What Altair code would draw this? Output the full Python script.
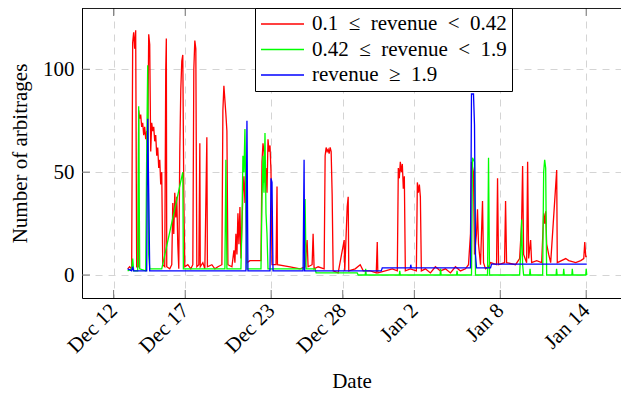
import altair as alt
import pandas as pd

# ---- data (days after 2020-12-12 00:00, number of arbitrages) ----
red_days = [0.98, 1.12, 1.26, 1.33, 1.40, 1.47, 1.54, 1.61, 1.72, 1.75, 1.82, 1.89, 1.96, 2.03, 2.10, 2.17,
            2.24, 2.31, 2.38, 2.45, 2.52, 2.59, 2.66, 2.73, 2.80, 2.87, 2.94, 3.01, 3.08, 3.15, 3.22, 3.29,
            3.36, 3.43, 3.57, 3.64, 3.68, 3.71, 3.92, 4.06, 4.13, 4.20, 4.27, 4.34, 4.41, 4.48, 4.55, 4.62,
            4.69, 4.76, 4.83, 4.90, 4.97, 5.18, 5.39, 5.53, 5.60, 5.67, 5.74, 5.81, 5.95, 6.02, 6.05, 6.23,
            6.37, 6.51, 6.55, 6.86, 7.07, 7.28, 7.56, 7.63, 7.70, 7.77, 7.84, 7.91, 7.98, 8.26, 8.40, 8.47,
            8.54, 8.61, 8.68, 8.75, 8.82, 8.89, 9.03, 9.10, 9.17, 9.24, 9.31, 9.52, 10.29, 10.36, 10.43, 10.50,
            10.57, 10.64, 10.71, 10.78, 10.85, 10.92, 10.99, 11.06, 11.34, 11.41, 11.44, 12.32, 13.02, 13.37,
            13.51, 13.58, 13.86, 13.93, 14.00, 14.28, 14.70, 14.77, 14.84, 14.91, 14.98, 15.05, 15.12, 15.19,
            15.26, 15.33, 15.68, 16.10, 16.14, 16.31, 16.38, 16.42, 16.87, 17.22, 17.43, 17.92, 18.34, 18.41,
            18.45, 18.97, 19.46, 19.81, 19.88, 19.95, 20.02, 20.09, 20.16, 20.23, 20.30, 20.37, 20.72, 21.14,
            21.21, 21.28, 21.35, 21.42, 21.49, 21.77, 22.12, 22.47, 22.82, 23.17, 23.52, 23.87, 24.22, 24.57,
            24.78, 24.92, 24.99, 25.13, 25.20, 25.34, 25.41, 25.48, 25.55, 25.62, 25.76, 25.83, 25.97, 26.18,
            26.32, 26.74, 26.81, 26.88, 27.30, 27.37, 27.44, 28.07, 28.35, 28.49, 28.56, 28.63, 28.84, 28.91,
            28.98, 29.12, 29.19, 29.54, 29.89, 30.03, 30.10, 30.17, 30.24, 30.38, 30.52, 30.94, 30.98, 31.57,
            31.78, 32.27, 32.62, 32.83, 32.90, 32.97, 33.04]
red_vals = [3, 4, 3, 113, 118, 110, 119, 4, 4, 80, 76, 78, 72, 74, 68, 72,
            66, 70, 60, 117, 112, 60, 74, 70, 72, 65, 68, 58, 62, 52, 56, 44,
            50, 5, 4, 100, 115, 4, 3, 5, 35, 20, 40, 28, 38, 15, 3, 60,
            90, 104, 107, 40, 4, 5, 3, 5, 100, 114, 110, 4, 5, 64, 4, 6,
            3, 67, 4, 5, 3, 4, 5, 80, 92, 85, 78, 70, 5, 4, 12, 6,
            20, 10, 30, 15, 33, 8, 40, 48, 35, 52, 6, 7, 7, 55, 64, 60,
            45, 52, 40, 66, 60, 63, 50, 5, 5, 43, 5, 4, 3, 4,
            17, 4, 5, 20, 3, 4, 3, 58, 62, 60, 61, 59, 62, 60,
            39, 2, 1, 17, 2, 33, 38, 2, 3, 5, 2, 2, 1, 16,
            1, 2, 3, 2, 52, 47, 55, 50, 54, 42, 48, 2, 3, 2,
            45, 40, 44, 38, 2, 3, 1, 4, 2, 3, 1, 4, 2, 3,
            5, 20, 55, 50, 10, 20, 32, 15, 10, 5, 36, 6, 3, 4,
            6, 5, 47, 5, 6, 36, 6, 5, 8, 25, 53, 10, 6, 55,
            8, 17, 6, 7, 6, 30, 25, 31, 15, 10, 6, 51, 6, 8,
            7, 6, 7, 8, 16, 9, 9]

green_days = [0.98, 1.26, 1.33, 1.40, 1.68, 1.75, 1.82, 2.24, 2.31, 2.38, 2.45, 2.52, 3.36, 4.83, 4.87,
              6.02, 7.77, 7.84, 7.91, 8.89, 8.96, 9.03, 9.10, 9.17, 9.24, 9.31, 10.29, 10.36, 10.43, 10.50,
              10.57, 10.64, 10.71, 10.78, 13.30, 13.37, 13.44, 14.07, 14.14, 17.01, 17.08, 17.57, 17.60, 17.64,
              19.95, 19.98, 20.02, 22.80, 22.83, 22.87, 23.95, 23.98, 24.02, 24.99, 25.06, 25.20, 25.27, 26.11,
              26.18, 26.25, 28.35, 28.42, 28.49, 28.56, 28.63, 29.05, 29.08, 29.12, 29.96, 30.03, 30.10, 30.17,
              30.24, 30.90, 30.93, 30.97, 31.40, 31.43, 31.47, 32.00, 32.03, 32.07, 32.97, 33.00, 33.04]
green_vals = [2, 3, 8, 2, 2, 82, 3, 2, 60, 102, 10, 3, 3, 50, 3,
              3, 3, 56, 3, 3, 25, 58, 50, 71, 30, 3, 3, 36, 58, 40,
              69, 30, 20, 3, 3, 37, 3, 3, 1, 1, 0, 0, 3, 0,
              0, 2, 0, 0, 3, 0, 0, 2, 0, 0, 57, 55, 0, 0,
              57, 0, 0, 10, 27, 5, 0, 0, 3, 0, 0, 50, 56, 52,
              0, 0, 3, 0, 0, 3, 0, 0, 3, 0, 0, 3, 0]

blue_days = [0.98, 1.26, 1.33, 1.40, 2.31, 2.38, 2.45, 2.52, 9.24, 9.31, 9.38, 10.92, 10.99, 11.06, 11.13,
             13.23, 13.30, 13.34, 18.69, 18.76, 20.72, 20.75, 20.79, 24.92, 24.99, 25.13, 25.20, 25.27, 25.34,
             26.32, 26.39, 33.04]
blue_vals = [3, 2, 4, 2, 2, 76, 40, 2, 2, 75, 2, 2, 47, 45, 2,
             2, 56, 2, 2, 3.5, 3.5, 5, 3.5, 3.5, 88, 88, 73, 10, 3.5,
             3.5, 5.3, 5.3]

series_labels = ["0.1\u2002\u2264\u2002revenue\u2002<\u20020.42",
                 "0.42\u2002\u2264\u2002revenue\u2002<\u20021.9",
                 "revenue\u2002\u2265\u20021.9"]
series_colors = ["#ff0000", "#00ff00", "#0000ff"]

x_tick_dates = ["2020-12-12", "2020-12-17", "2020-12-23", "2020-12-28",
                "2021-01-02", "2021-01-08", "2021-01-14"]
y_tick_values = [0, 50, 100]
x_domain = ["2020-12-09T19:00:00", "2021-01-16T10:20:00"]
y_domain = [-11.18, 129.8]

base = pd.Timestamp("2020-12-12")
frames = []
for label, days, vals in zip(series_labels, [red_days, green_days, blue_days],
                             [red_vals, green_vals, blue_vals]):
    frames.append(pd.DataFrame({
        "date": base + pd.to_timedelta(days, unit="D"),
        "count": vals,
        "series": label,
    }))
df = pd.concat(frames, ignore_index=True)
df["order"] = df["series"].map({s: i for i, s in enumerate(series_labels)})

W, H = 539, 290
FONT = "Liberation Serif, Times New Roman, Times, serif"
FS = 21
GRID = "#d4d4d4"
TICK = "#777777"

x_enc = alt.X("date:T",
              scale=alt.Scale(domain=x_domain, nice=False),
              axis=alt.Axis(values=x_tick_dates, format="%b %-d", formatType="time",
                            title="Date", labelAngle=315, labelAlign="right",
                            labelBaseline="middle", labelPadding=9, labelOverlap=False,
                            labelFlush=False, labelFont=FONT, labelFontSize=FS,
                            labelColor="#000000", labelLimit=300,
                            ticks=False, grid=True, gridDash=[7, 6],
                            gridColor=GRID, domainColor="#000000", titleY=89,
                            titleBaseline="alphabetic"))
y_enc = alt.Y("count:Q",
              scale=alt.Scale(domain=y_domain, nice=False, zero=False),
              axis=alt.Axis(values=y_tick_values, title="Number of arbitrages",
                            labelFont=FONT, labelFontSize=FS, labelColor="#000000",
                            ticks=False, labelPadding=8, grid=True, gridDash=[7, 6],
                            gridColor=GRID, domainColor="#000000", titleX=-55.5,
                            titleY=H / 2, titleBaseline="alphabetic"))

lines = alt.Chart(df).mark_line(strokeWidth=1.3, interpolate="linear").encode(
    x=x_enc,
    y=y_enc,
    color=alt.Color("series:N",
                    scale=alt.Scale(domain=series_labels, range=series_colors),
                    legend=alt.Legend(title=None, orient="none", legendX=173, legendY=0,
                                      strokeColor="#000000", fillColor="#ffffff",
                                      padding=5, symbolType="stroke", symbolSize=1849,
                                      symbolStrokeWidth=1.4, labelOffset=7,
                                      labelFont=FONT, labelFontSize=FS, labelColor="#000000",
                                      clipHeight=22, rowPadding=3.5, labelLimit=400)),
    order=alt.Order("order:Q"),
    detail="series:N",
)

xt = pd.DataFrame({"date": pd.to_datetime(x_tick_dates)})
yt = pd.DataFrame({"count": y_tick_values})

bottom_ticks = alt.Chart(xt).mark_rule(color=TICK, strokeWidth=1).encode(
    x=x_enc, y=alt.value(H), y2=alt.value(H - 8))
top_ticks = alt.Chart(xt).mark_rule(color=TICK, strokeWidth=1).encode(
    x=x_enc, y=alt.value(0), y2=alt.value(8))
left_ticks = alt.Chart(yt).mark_rule(color=TICK, strokeWidth=1).encode(
    y=y_enc, x=alt.value(0), x2=alt.value(8))
top_border = alt.Chart(yt).mark_rule(color="#000000", strokeWidth=1).encode(
    x=alt.value(0), x2=alt.value(W), y=alt.value(0))

chart = alt.layer(lines, bottom_ticks, top_ticks, left_ticks, top_border).properties(
    width=W, height=H,
    autosize=alt.AutoSizeParams(type="none"),
    padding={"left": 74, "top": 0, "right": 0, "bottom": 95},
).configure_view(stroke=None).configure_axis(
    labelFont=FONT, labelFontSize=FS, labelColor="#000000",
    titleFont=FONT, titleFontSize=FS, titleColor="#000000", titleFontWeight="normal",
    domainWidth=1,
)

chart.save("out.html", embed_options={"renderer": "svg", "actions": False})
